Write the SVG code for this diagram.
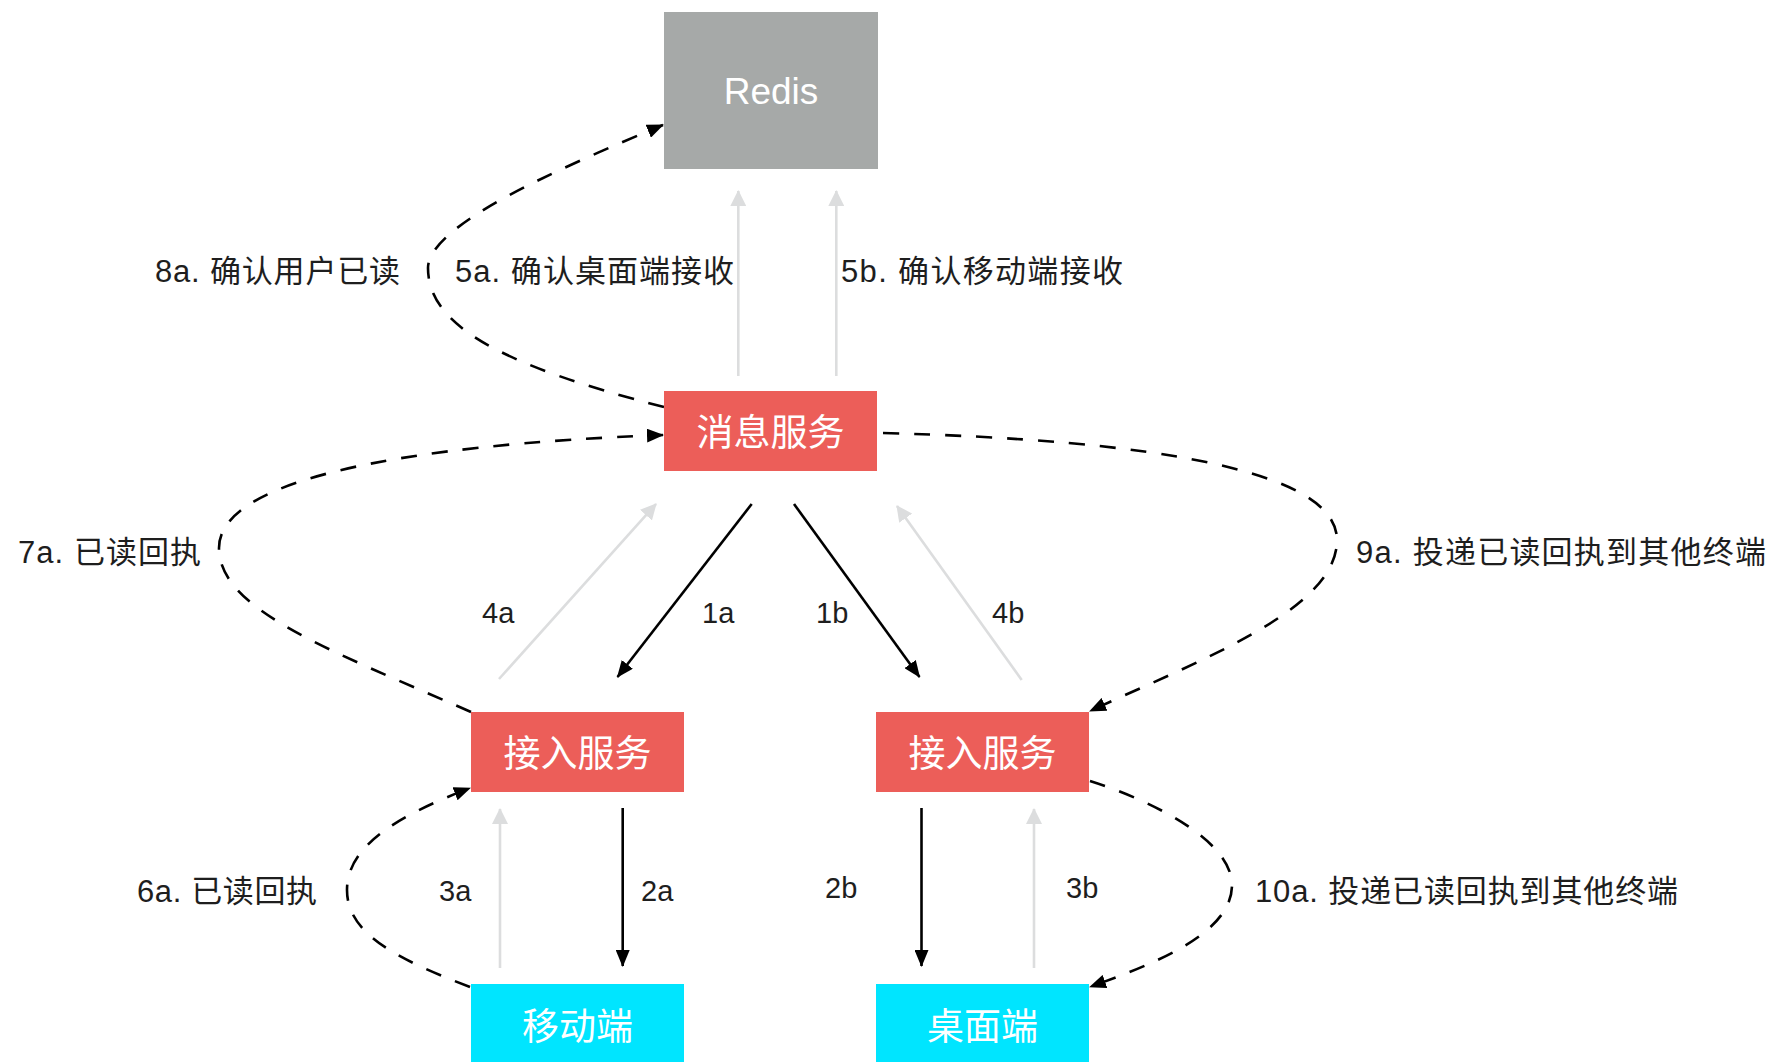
<svg xmlns="http://www.w3.org/2000/svg" width="1771" height="1062" viewBox="0 0 1771 1062">
<style>
.red{fill:#EC5E59}
.cyan{fill:#00E5FF}
.grey{fill:#A6A9A8}
.nt{font-family:"Liberation Sans","Noto Sans CJK SC",sans-serif;font-size:37px;fill:#FFFFFF;text-anchor:middle}
.lb{font-family:"Liberation Sans","Noto Sans CJK SC",sans-serif;font-size:31px;fill:#1E1E1E}
.sl{font-family:"Liberation Sans","Noto Sans CJK SC",sans-serif;font-size:29px;fill:#1E1E1E}
.dash{fill:none;stroke:#000;stroke-width:2.6;stroke-dasharray:16 15;marker-end:url(#ah)}
.solid{fill:none;stroke:#000;stroke-width:2.6;marker-end:url(#ah)}
.light{fill:none;stroke:#DCDDDE;stroke-width:2.6;marker-end:url(#ahg)}
</style>
<defs>
<marker id="ah" markerUnits="userSpaceOnUse" viewBox="0 0 17 14" refX="16" refY="7" markerWidth="17" markerHeight="14" orient="auto">
<path d="M0,0 L17,7 L0,14 z" fill="#000"/>
</marker>
<marker id="ahg" markerUnits="userSpaceOnUse" viewBox="0 0 16 16" refX="15" refY="8" markerWidth="16" markerHeight="16" orient="auto">
<path d="M0,0 L16,8 L0,16 z" fill="#DCDDDE"/>
</marker>
</defs>
<rect width="1771" height="1062" fill="#FFFFFF"/>

<g id="connectors">
<path class="light" d="M738.3,376 L738.3,191"/>
<path class="light" d="M836.3,376 L836.3,191"/>
<path class="light" d="M499,679 L656,504"/>
<path class="light" d="M1021.7,680 L897,506"/>
<path class="light" d="M500,968 L500,809"/>
<path class="light" d="M1034,968 L1034,809"/>
<path class="solid" d="M751.7,504 L617.5,677"/>
<path class="solid" d="M794,504 L919.5,677"/>
<path class="solid" d="M622.7,808 L622.7,966"/>
<path class="solid" d="M921.5,808 L921.5,966"/>
<path class="dash" d="M664,407 C500,365 428,325 428,268 C428,225 560,168 663,125"/>
<path class="dash" d="M471,712 C330,650 219,610 219,548 C219,480 400,445 663,435"/>
<path class="dash" d="M883,433 C1150,440 1337,470 1337,540 C1337,610 1200,660 1090,711"/>
<path class="dash" d="M1090,781 C1150,800 1232,840 1232,885 C1232,935 1150,965 1090,987"/>
<path class="dash" d="M470,987 C400,960 347,935 347,890 C347,845 400,815 470,788"/>
</g>

<g id="redis">
<rect class="grey" x="664" y="12" width="214" height="157"/>
<text class="nt" x="771" y="104">Redis</text>
</g>
<g id="msg-service">
<rect class="red" x="664" y="391" width="213" height="80"/>
<text class="nt" x="770.5" y="446">消息服务</text>
</g>
<g id="access-left">
<rect class="red" x="471" y="712" width="213" height="80"/>
<text class="nt" x="577.5" y="767">接入服务</text>
</g>
<g id="access-right">
<rect class="red" x="876" y="712" width="213" height="80"/>
<text class="nt" x="982.5" y="767">接入服务</text>
</g>
<g id="mobile">
<rect class="cyan" x="471" y="984" width="213" height="80"/>
<text class="nt" x="577.5" y="1040">移动端</text>
</g>
<g id="desktop">
<rect class="cyan" x="876" y="984" width="213" height="80"/>
<text class="nt" x="982.5" y="1040">桌面端</text>
</g>

<g id="labels">
<text class="lb" x="155" y="282" textLength="245">8a. 确认用户已读</text>
<text class="lb" x="455" y="282" textLength="279">5a. 确认桌面端接收</text>
<text class="lb" x="841" y="282" textLength="282">5b. 确认移动端接收</text>
<text class="lb" x="18" y="563" textLength="183">7a. 已读回执</text>
<text class="lb" x="1356" y="563" textLength="410">9a. 投递已读回执到其他终端</text>
<text class="sl" x="482" y="623">4a</text>
<text class="sl" x="702" y="623">1a</text>
<text class="sl" x="816" y="623">1b</text>
<text class="sl" x="992" y="623">4b</text>
<text class="lb" x="137" y="902" textLength="180">6a. 已读回执</text>
<text class="sl" x="439" y="901">3a</text>
<text class="sl" x="641" y="901">2a</text>
<text class="sl" x="825" y="898">2b</text>
<text class="sl" x="1066" y="898">3b</text>
<text class="lb" x="1255" y="902" textLength="423">10a. 投递已读回执到其他终端</text>
</g>
</svg>
